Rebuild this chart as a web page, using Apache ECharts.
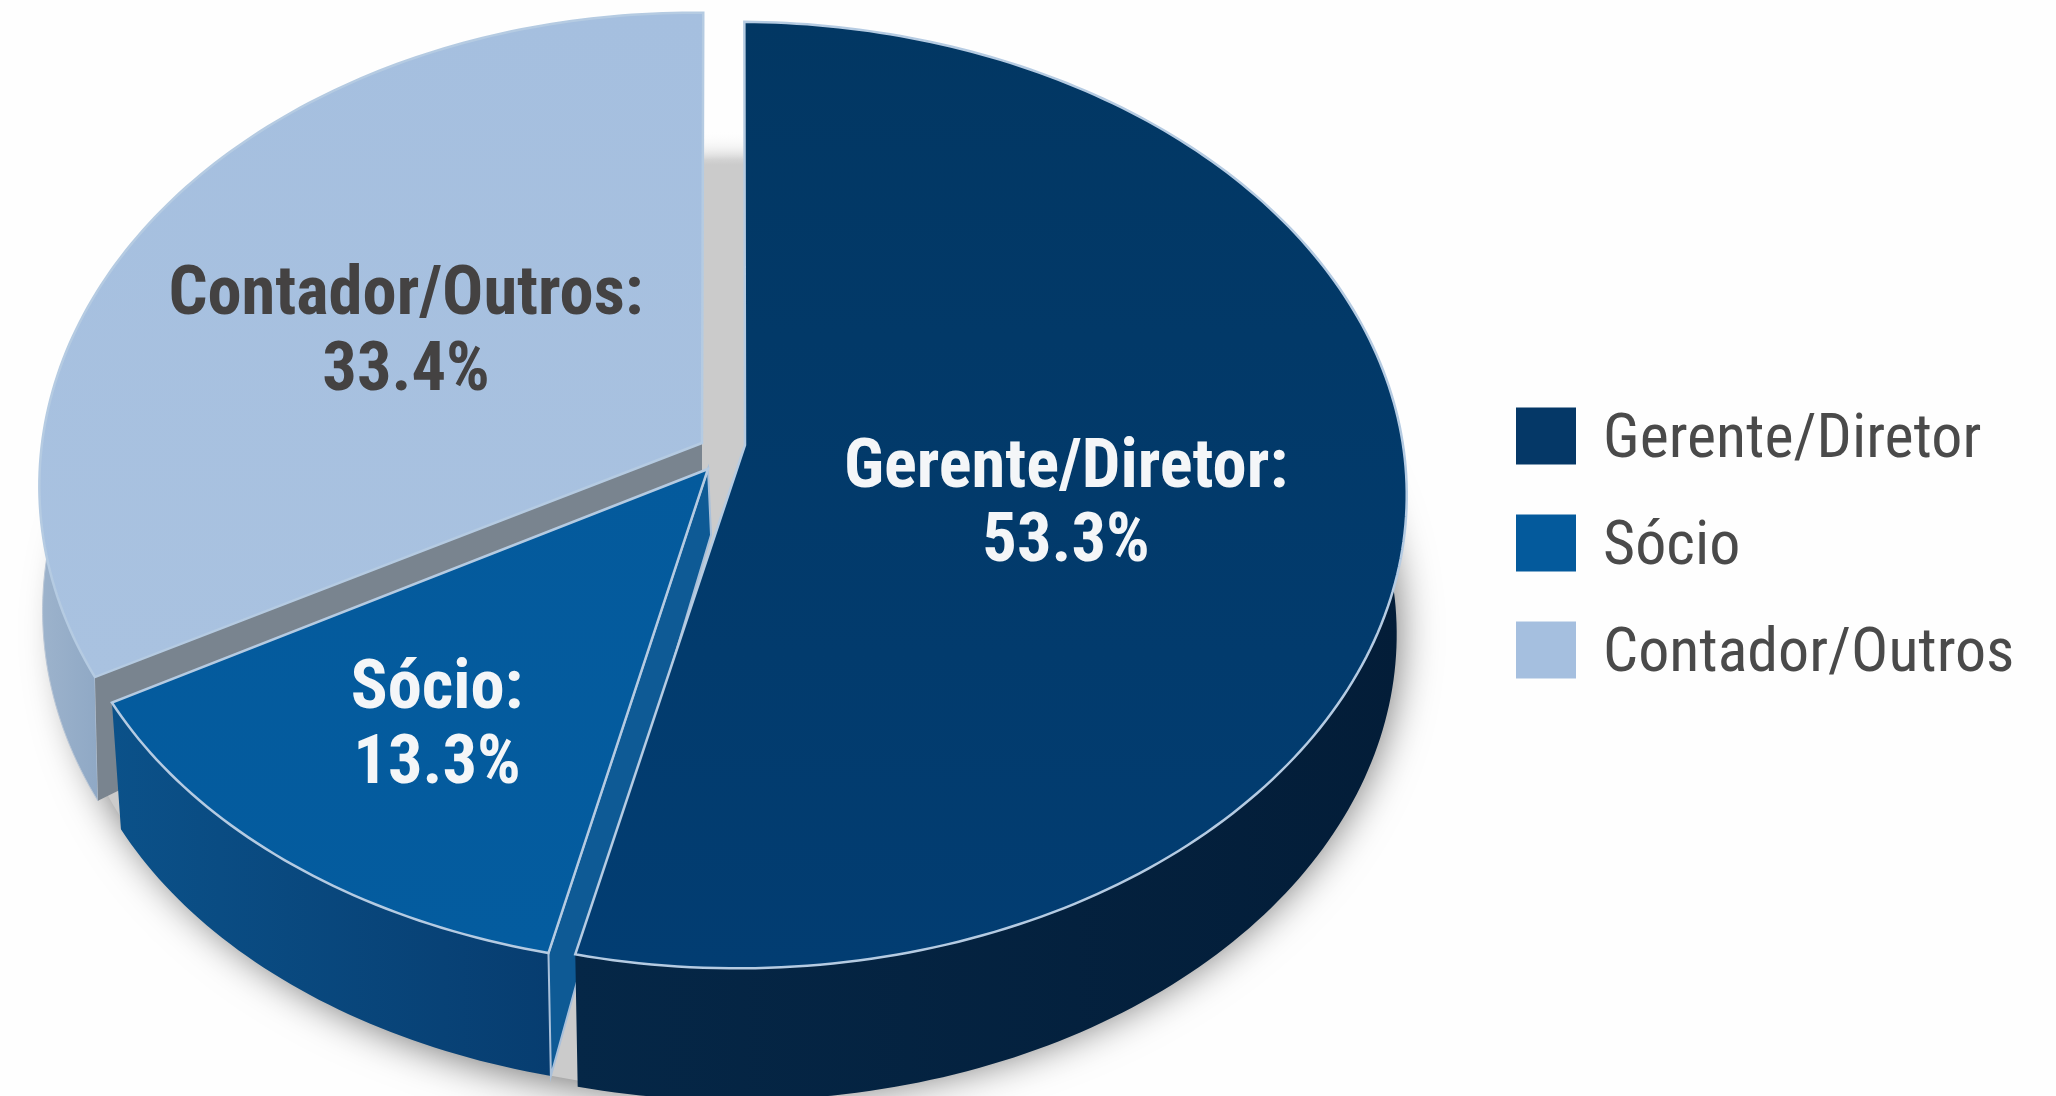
<!DOCTYPE html>
<html>
<head>
<meta charset="utf-8">
<style>
  html, body { margin: 0; padding: 0; background: #fefefe; }
  #chart { width: 2056px; height: 1096px; }
</style>
<script src="https://cdn.jsdelivr.net/npm/echarts@6/dist/echarts.min.js"></script>
</head>
<body>
<div id="chart"></div>
<script>
// valores
const categories = ['Gerente/Diretor', 'Sócio', 'Contador/Outros'];
const values = [53.3, 13.3, 33.4];

const topColors = [['#023763', '#023d72'], ['#045a9c', '#045c9f'], ['#a5bfdf', '#a9c2e0']];
const wallColors = [['#052747', '#031d38'], ['#0b5189', '#073d70'], ['#9db3cc', '#7f9cbd']];
const labelColors = ['#f4f6f8', '#f4f6f8', '#444242'];
const legendColors = ['#053867', '#045a9c', '#a5bfdf'];

// geometria da pizza em perspectiva
const PERSP = 0.1057;
const slices = [
  { cx: 737, cy: 445, ax: 745, ay: 445, rx: 666, ry: 468, depth: 140, low: 0.985, rot: 0.7, lx: 1066, ly: 470, ly2: 544 },
  { cx: 710, cy: 477, ax: 708, ay: 469, rx: 650, ry: 438, depth: 130, low: 0.985, rot: 1, lx: 437, ly: 691, ly2: 766 },
  { cx: 693, cy: 436, ax: 702, ay: 443, rx: 650, ry: 468, depth: 125, low: 0.995, rot: 1, lx: 406, ly: 297, ly2: 373 }
];

const chart = echarts.init(document.getElementById('chart'));

function project(s, deg, low) {
  const a = (deg + s.rot) * Math.PI / 180;
  const u = Math.sin(a), v = -Math.cos(a);
  const k = 1 / (1 - PERSP * v) * (low ? s.low : 1);
  return [s.cx + s.rx * u * k, s.cy + s.ry * v * k + (low ? s.depth : 0)];
}

function arc(s, from, to, low) {
  const pts = [];
  const n = Math.ceil(Math.abs(to - from));
  for (let i = 0; i <= n; i++) pts.push(project(s, from + (to - from) * i / n, low));
  return pts;
}

function grad(c, x2, y2) {
  return new echarts.graphic.LinearGradient(0, 0, x2, y2, [
    { offset: 0, color: c[0] }, { offset: 1, color: c[1] }
  ]);
}

function startAngle(i) {
  const total = values.reduce((a, b) => a + b, 0);
  return values.slice(0, i).reduce((a, b) => a + b, 0) / total * 360;
}

function renderSlice(i) {
  return function (params, api) {
    const total = values.reduce((a, b) => a + b, 0);
    const s = slices[i];
    const a0 = startAngle(i);
    const a1 = a0 + api.value(0) / total * 360;
    const children = [];
    const rim = arc(s, a0, a1, false);
    const wallFrom = Math.max(a0, 65), wallTo = Math.min(a1, 300);

    // parede externa
    const wall = arc(s, wallFrom, wallTo, false).concat(arc(s, wallTo, wallFrom, true));
    children.push({ type: 'polygon', shape: { points: wall },
      style: { fill: grad(wallColors[i], 1, 0), stroke: i === 2 ? '#b9c6d6' : 'rgba(0,0,0,0)', lineWidth: 1 } });

    // faces de corte
    if (i === 2) {
      const c = project(s, a0, false), cl = project(s, a0, true);
      children.push({ type: 'polygon', shape: { points: [[s.ax, s.ay], c, cl, [s.ax, s.ay + 60]] },
        style: { fill: '#79848f' } });
    }
    if (i === 1) {
      const c = project(s, a0, false), cl = project(s, a0, true);
      children.push({ type: 'polygon', shape: { points: [[s.ax, s.ay], [s.ax + 3, s.ay + 66], [c[0] + 29, c[1] + 27], cl, c] },
        style: { fill: '#0e5a95', stroke: '#a9c0da', lineWidth: 2 } });
    }

    // face superior
    children.push({ type: 'polygon', shape: { points: [[s.ax, s.ay]].concat(rim) },
      style: { fill: grad(topColors[i], 0, 1), stroke: '#b5cbe2', lineWidth: 2.5, lineJoin: 'miter' } });

    // rótulos
    const font = { fontFamily: '"Roboto Condensed", Roboto', fontWeight: 700, fontSize: 68.5, fill: labelColors[i], align: 'center', verticalAlign: 'middle' };
    children.push({ type: 'text', x: s.lx, y: s.ly,
      style: Object.assign({ text: categories[i] + ':' }, font) });
    children.push({ type: 'text', x: s.lx, y: s.ly2,
      style: Object.assign({ text: api.value(0).toFixed(1) + '%' }, font) });

    return { type: 'group', children: children };
  };
}

function renderBase() {
  const s = { cx: 728, cy: 445, rx: 672, ry: 468, depth: 132, low: 0.985, rot: 0 };
  return { type: 'group', children: [
    { type: 'polygon', shape: { points: arc(s, 0, 360, true) },
      style: { fill: '#cbcbcb', shadowBlur: 40, shadowColor: 'rgba(0,0,0,0.55)', shadowOffsetX: 4, shadowOffsetY: 6 } },
    // o vão entre as fatias clareia em direção ao topo
    { type: 'polygon', shape: { points: [[680, 0], [770, 0], [770, 165], [680, 165]] },
      style: { fill: new echarts.graphic.LinearGradient(0, 0, 0, 1, [
        { offset: 0, color: 'rgba(254,254,254,1)' }, { offset: 0.8, color: 'rgba(254,254,254,1)' }, { offset: 1, color: 'rgba(254,254,254,0)' }
      ]) } }
  ] };
}

function sliceSeries(i) {
  return {
    type: 'custom',
    name: categories[i],
    coordinateSystem: 'none',
    silent: true,
    itemStyle: { color: legendColors[i] },
    renderItem: renderSlice(i),
    data: [[values[i]]]
  };
}

chart.setOption({
  backgroundColor: '#fefefe',
  animation: false,
  legend: {
    orient: 'vertical',
    left: 1511,
    top: 395,
    itemWidth: 60,
    itemHeight: 57,
    itemGap: 35,
    icon: 'rect',
    selectedMode: false,
    data: categories,
    formatter: '{t|{name}}',
    textStyle: {
      rich: {
        t: { fontFamily: '"Roboto Condensed", Roboto', fontSize: 62, lineHeight: 57, color: '#4a4a4a', padding: [10, 0, 0, 22] }
      }
    }
  },
  series: [
    { type: 'custom', name: 'base', coordinateSystem: 'none', silent: true, renderItem: renderBase, data: [[1]] },
    sliceSeries(2),
    sliceSeries(1),
    sliceSeries(0)
  ]
});
</script>
</body>
</html>
